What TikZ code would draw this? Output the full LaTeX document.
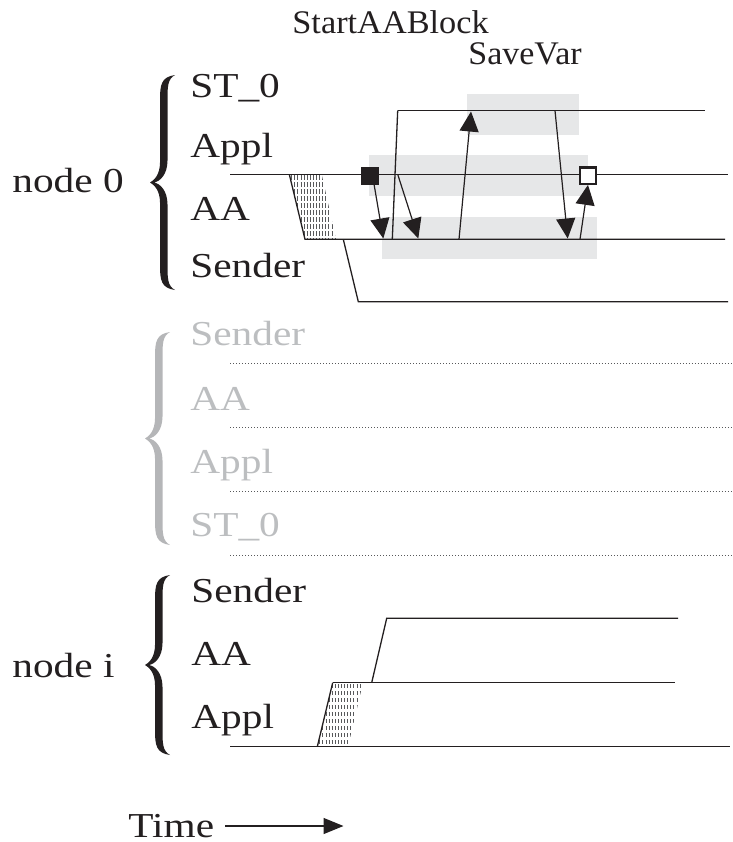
\documentclass[tikz,border=0pt]{standalone}
\usepackage{fontspec}
\usepackage{graphicx}
\setmainfont{Liberation Serif}
\usetikzlibrary{arrows.meta}
\definecolor{ink}{HTML}{231F20}
\definecolor{boxgray}{HTML}{E6E7E8}
\definecolor{ghost}{HTML}{BCBEC0}
\definecolor{ghostb}{HTML}{B5B6B8}
\definecolor{hatchc}{HTML}{58595B}
\newcommand{\rowtxt}[1]{\scalebox{1.18}[1]{#1}}
\newcommand{\curlybrace}[4]{%
  \pgfmathsetmacro{\bM}{(#2+#3)/2}%
  \pgfmathsetmacro{\bS}{#1-11}%
  \pgfmathsetmacro{\bL}{#1-25}%
  \fill[#4] (#1,#2) .. controls ({\bS-3},{#2+2}) and ({\bS-4},{#2+10}) .. ({\bS-4},{#2+25})
    -- ({\bS-4},{\bM-20}) .. controls ({\bS-4},{\bM-8}) and ({\bL+4},{\bM-2}) .. (\bL,\bM)
    .. controls ({\bL+4},{\bM+2}) and ({\bS-4},{\bM+8}) .. ({\bS-4},{\bM+20})
    -- ({\bS-4},{#3-25}) .. controls ({\bS-4},{#3-10}) and ({\bS-3},{#3-2}) .. (#1,#3)
    .. controls ({\bS+3.5},{#3-4}) and ({\bS+3.5},{#3-12}) .. ({\bS+3.5},{#3-25})
    -- ({\bS+3.5},{\bM+22}) .. controls ({\bS+3.5},{\bM+8}) and ({\bL+10},{\bM+1}) .. ({\bL+4},\bM)
    .. controls ({\bL+10},{\bM-1}) and ({\bS+3.5},{\bM-8}) .. ({\bS+3.5},{\bM-22})
    -- ({\bS+3.5},{#2+25}) .. controls ({\bS+3.5},{#2+12}) and ({\bS+3.5},{#2+4}) .. (#1,#2) -- cycle;}
\begin{document}
\begin{tikzpicture}[x=0.5pt,y=-0.5pt,
  lbl/.style={anchor=base west, inner sep=0pt, font=\fontsize{17.5}{20}\selectfont, text=ink},
  glbl/.style={lbl, text=ghost},
  toplbl/.style={anchor=base west, inner sep=0pt, font=\fontsize{16.5}{19}\selectfont, text=ink},
  ln/.style={draw=ink, line width=0.65pt},
  dln/.style={draw=hatchc, line width=0.5pt, dash pattern=on 0.6pt off 0.9pt},
  arr/.style={draw=ink, line width=0.6pt, -{Triangle[width=9.5pt,length=10pt]}},
  hatch/.style={draw=hatchc, line width=2.2pt, dash pattern=on 0.45pt off 1.1pt},
  blk/.style={draw=ink, fill=ink, minimum size=8.5pt, inner sep=0pt, rectangle},
  opn/.style={draw=ink, fill=white, line width=1.2pt, minimum size=8.2pt, inner sep=0pt, rectangle}]
\useasboundingbox (0,0) rectangle (733,842);

% shaded blocks
\fill[boxgray] (466.7,94) rectangle (579.3,135);
\fill[boxgray] (369.3,155) rectangle (588.3,196);
\fill[boxgray] (381.7,217.3) rectangle (596.7,259);

% top labels
\node[toplbl] (sab) at (292,33) {\scalebox{1.04}[1]{StartAABlock}};
\node[toplbl] (sv) at (468,64) {\scalebox{1.03}[1]{SaveVar}};

% node 0
\node[lbl] (n0) at (12,192) {\rowtxt{node 0}};
\curlybrace{175}{75}{290}{ink}
\node[lbl] (n0st) at (190,97) {\rowtxt{ST\_0}};
\node[lbl] (n0ap) at (190,157) {\rowtxt{Appl}};
\node[lbl] (n0aa) at (190,220) {\rowtxt{AA}};
\node[lbl] (n0se) at (190,277) {\rowtxt{Sender}};

% hatch node 0
\begin{scope}
\clip (289.3,174.3) -- (321.7,174.3) -- (336,239.3) -- (305,239.3) -- cycle;
\foreach \k in {0,...,9} \draw[hatch] (285,{177.5+7*\k}) -- (340,{177.5+7*\k});
\end{scope}

\coordinate (t0) at (397.7,110.5);
\coordinate (t1) at (705,110.5);
\coordinate (m0) at (230,174.3);
\coordinate (m1) at (728,174.3);
\coordinate (hA) at (289.3,174.3);
\coordinate (hB) at (305,239.3);
\coordinate (l1) at (725,239.3);
\coordinate (sA) at (343.3,239.3);
\coordinate (sB) at (358.3,301.7);
\coordinate (b1) at (728,301.7);
\coordinate (v0) at (392.3,239.3);

\draw[ln] (t0) -- (t1);
\draw[ln] (m0) -- (m1);
\draw[ln] (hA) -- (hB) -- (l1);
\draw[ln] (sA) -- (sB) -- (b1);
\draw[ln] (v0) -- (t0);

\node[blk] (sq) at (370,176) {};
\node[opn] (osq) at (588,175.5) {};

\coordinate (a1s) at (374,184);
\coordinate (a1e) at (383.3,238.5);
\coordinate (a2s) at (397.7,174.3);
\coordinate (a2e) at (418.3,238.5);
\coordinate (a3s) at (459,239.3);
\coordinate (a3e) at (471,111.5);
\coordinate (a4s) at (555,110.5);
\coordinate (a4e) at (567.7,238.5);
\coordinate (a5s) at (580,239.3);

\draw[arr] (a1s) -- (a1e);
\draw[arr] (a2s) -- (a2e);
\draw[arr] (a3s) -- (a3e);
\draw[arr] (a4s) -- (a4e);
\draw[arr] (a5s) -- (osq.south);

% ghost group
\curlybrace{170}{332}{545}{ghostb}
\node[glbl] (gse) at (190,345) {\rowtxt{Sender}};
\node[glbl] (gaa) at (190,410) {\rowtxt{AA}};
\node[glbl] (gap) at (190,473.3) {\rowtxt{Appl}};
\node[glbl] (gst) at (190,536.7) {\rowtxt{ST\_0}};
\coordinate (d1a) at (230,363.3); \coordinate (d1b) at (733,363.3);
\coordinate (d2a) at (230,427.7); \coordinate (d2b) at (733,427.7);
\coordinate (d3a) at (230,491.7); \coordinate (d3b) at (733,491.7);
\coordinate (d4a) at (230,555.7); \coordinate (d4b) at (733,555.7);
\draw[dln] (d1a) -- (d1b);
\draw[dln] (d2a) -- (d2b);
\draw[dln] (d3a) -- (d3b);
\draw[dln] (d4a) -- (d4b);

% node i
\node[lbl] (ni) at (12,677) {\rowtxt{node i}};
\curlybrace{170}{575}{755}{ink}
\node[lbl] (nise) at (191,602) {\rowtxt{Sender}};
\node[lbl] (niaa) at (191,665) {\rowtxt{AA}};
\node[lbl] (niap) at (191,728.3) {\rowtxt{Appl}};

\begin{scope}
\clip (332.7,682.7) -- (363,682.7) -- (348,746.7) -- (317.3,746.7) -- cycle;
\foreach \k in {0,...,9} \draw[hatch] (310,{686+7*\k}) -- (370,{686+7*\k});
\end{scope}

\coordinate (it0) at (386.7,618.3);
\coordinate (it1) at (678,618.3);
\coordinate (im0) at (371.7,682.7);
\coordinate (imA) at (332.7,682.7);
\coordinate (im1) at (675,682.7);
\coordinate (ib0) at (230,746.7);
\coordinate (ibA) at (317.3,746.7);
\coordinate (ib1) at (730,746.7);
\draw[ln] (im0) -- (it0) -- (it1);
\draw[ln] (imA) -- (im1);
\draw[ln] (ib0) -- (ib1);
\draw[ln] (ibA) -- (imA);

% time
\node[lbl] (tm) at (128,837) {\rowtxt{Time}};
\coordinate (ta0) at (225,826);
\coordinate (ta) at (343.5,826);
\draw[draw=ink, line width=0.65pt, -{Triangle[width=8pt,length=10pt]}] (ta0) -- (ta);
\end{tikzpicture}
\end{document}
